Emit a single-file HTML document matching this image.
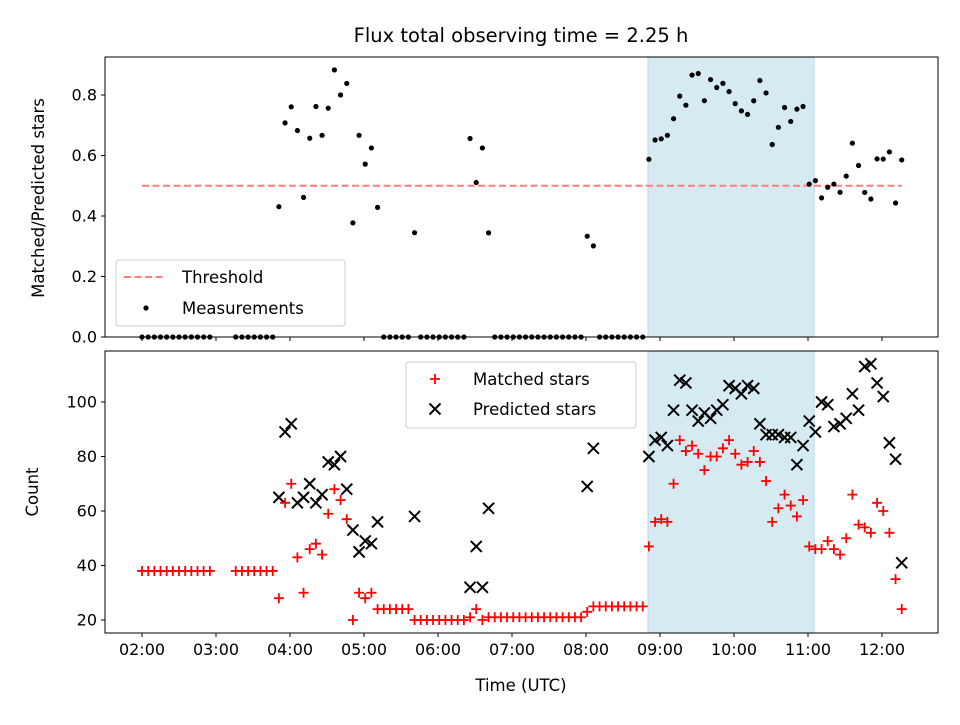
<!DOCTYPE html>
<html><head><meta charset="utf-8"><style>
body{margin:0;background:#fff}
svg text{font-family:"DejaVu Sans","Liberation Sans",sans-serif;fill:#000}
</style></head><body>
<svg id="chart" width="960" height="720" xmlns="http://www.w3.org/2000/svg">
<rect width="960" height="720" fill="#fff"/>
<g id="g"></g>
</svg>
<script>
// minutes since 02:00
const times = [0,5,10,15,20,25,30,35,40,45,50,55,
76,81,86,91,96,101,106,
111,116,121,126,131,136,141,146,151,156,161,166,171,176,181,186,191,
196,201,206,211,216,221,226,231,236,241,246,251,256,261,266,271,276,281,
286,291,296,301,306,311,316,321,326,331,336,341,346,351,356,361,366,
371,376,381,386,391,396,401,406,
411,416,421,426,431,436,441,446,451,456,461,466,471,476,481,486,491,496,501,506,511,516,521,526,531,536,541,546,551,556,561,566,571,576,581,586,591,596,601,606,611,616];
const matched = [38,38,38,38,38,38,38,38,38,38,38,38,
38,38,38,38,38,38,38,
28,63,70,43,30,46,48,44,59,68,64,57,20,30,28,30,24,
24,24,24,24,24,20,20,20,20,20,20,20,20,20,21,24,20,21,
21,21,21,21,21,21,21,21,21,21,21,21,21,21,21,23,25,
25,25,25,25,25,25,25,25,
47,56,57,56,70,86,82,84,81,75,80,80,83,86,81,77,78,82,78,71,56,61,66,62,58,64,47,46,46,49,46,44,50,66,55,54,52,63,60,52,35,24];
const N = null;
const predicted = [N,N,N,N,N,N,N,N,N,N,N,N,
N,N,N,N,N,N,N,
65,89,92,63,65,70,63,66,78,77,80,68,53,45,49,48,56,
N,N,N,N,N,58,N,N,N,N,N,N,N,N,32,47,32,61,
N,N,N,N,N,N,N,N,N,N,N,N,N,N,N,69,83,
N,N,N,N,N,N,N,N,
80,86,87,84,97,108,107,97,93,96,94,97,99,106,105,103,106,105,92,88,88,88,87,87,77,84,93,89,100,99,91,92,94,103,97,113,114,107,102,85,79,41];
const xTickLabels = ["02:00","03:00","04:00","05:00","06:00","07:00","08:00","09:00","10:00","11:00","12:00"];
const topTicks = [0.0,0.2,0.4,0.6,0.8];
const botTicks = [20,40,60,80,100];
const threshold = 0.5;
const spanStart = 410.3, spanEnd = 545;

const NS="http://www.w3.org/2000/svg";
const g=document.getElementById('g');
function mk(tag,attrs,parent){const e=document.createElementNS(NS,tag);for(const k in attrs)e.setAttribute(k,attrs[k]);(parent||g).appendChild(e);return e;}
const X=t=>142+t*74/60;
const TOP={t:57,b:337}, BOT={t:351,b:633};
const yTop=v=>337-v*302.5;
const yBot=v=>620-(v-20)*2.725;
const L=105,R=938;

let e=mk('text',{x:521,y:42,'text-anchor':'middle','font-size':'19.5'});e.textContent='Flux total observing time = 2.25 h';



[[TOP,'top'],[BOT,'bottom']].forEach(([P,n])=>{
  const s=mk('rect',{x:X(spanStart),y:P.t,width:X(spanEnd)-X(spanStart),height:P.b-P.t,fill:'#d5eaf1',stroke:'#b9dcea','stroke-width':1});
  
  
});

e=mk('line',{x1:X(0),x2:X(616),y1:yTop(threshold),y2:yTop(threshold),stroke:'#ff7f7f','stroke-width':2,'stroke-dasharray':'7,3.5'});



for(let i=0;i<times.length;i++){
  const x=X(times[i]);
  const p=predicted[i], m=matched[i];
  const r=p?m/p:0;
  const d=mk('circle',{cx:x,cy:yTop(r),r:2.6,fill:'#000'});
  
  
  const ym=yBot(m), a=5;
  const pl=mk('path',{d:`M${x-a} ${ym}H${x+a}M${x} ${ym-a}V${ym+a}`,stroke:'#f00','stroke-width':1.8,fill:'none'});
  
  
  if(p){
    const yp=yBot(p), b=5.5;
    const xm=mk('path',{d:`M${x-b} ${yp-b}L${x+b} ${yp+b}M${x-b} ${yp+b}L${x+b} ${yp-b}`,stroke:'#000','stroke-width':2,fill:'none'});
    
    
  }
}

[[TOP,'top'],[BOT,'bottom']].forEach(([P,n])=>{
  const f=mk('rect',{x:L,y:P.t,width:R-L,height:P.b-P.t,fill:'none',stroke:'#000','stroke-width':1});
  
  
  xTickLabels.forEach((lab,i)=>{
    const x=X(i*60);
    mk('line',{x1:x,x2:x,y1:P.b,y2:P.b+4,stroke:'#000'});
    if(n==='bottom'){const t=mk('text',{x:x,y:P.b+22,'text-anchor':'middle','font-size':'16'});t.textContent=lab;
      
      }
  });
});
topTicks.forEach(v=>{const y=yTop(v);mk('line',{x1:L-4,x2:L,y1:y,y2:y,stroke:'#000'});
  const t=mk('text',{x:L-8,y:y+5.5,'text-anchor':'end','font-size':'16'});t.textContent=v.toFixed(1);
  
  });
botTicks.forEach(v=>{const y=yBot(v);mk('line',{x1:L-4,x2:L,y1:y,y2:y,stroke:'#000'});
  const t=mk('text',{x:L-8,y:y+5.5,'text-anchor':'end','font-size':'16'});t.textContent=v;
  
  });

e=mk('text',{x:0,y:0,'text-anchor':'middle','font-size':'16.5',transform:'translate(44,198) rotate(-90)'});e.textContent='Matched/Predicted stars';


e=mk('text',{x:0,y:0,'text-anchor':'middle','font-size':'16.5',transform:'translate(38,492) rotate(-90)'});e.textContent='Count';


e=mk('text',{x:521,y:691,'text-anchor':'middle','font-size':'16.5'});e.textContent='Time (UTC)';



let lg=mk('g',{});


mk('rect',{x:116,y:260,width:229,height:66,rx:3,fill:'#fff','fill-opacity':0.8,stroke:'#ccc'},lg);
mk('line',{x1:124,x2:164,y1:277,y2:277,stroke:'#ff7f7f','stroke-width':2,'stroke-dasharray':'7,3.5'},lg);
mk('text',{x:182,y:283,'font-size':'16.5'},lg).textContent='Threshold';
mk('circle',{cx:146,cy:308,r:2.6,fill:'#000'},lg);
mk('text',{x:182,y:314,'font-size':'16.5'},lg).textContent='Measurements';

lg=mk('g',{});


mk('rect',{x:406,y:362,width:230,height:66,rx:3,fill:'#fff','fill-opacity':0.8,stroke:'#ccc'},lg);
mk('path',{d:'M430 379H440M435 374V384',stroke:'#f00','stroke-width':1.8},lg);
mk('text',{x:473,y:385,'font-size':'16.5'},lg).textContent='Matched stars';
mk('path',{d:'M429.5 403.5L440.5 414.5M429.5 414.5L440.5 403.5',stroke:'#000','stroke-width':2},lg);
mk('text',{x:473,y:415,'font-size':'16.5'},lg).textContent='Predicted stars';
</script>
</body></html>
